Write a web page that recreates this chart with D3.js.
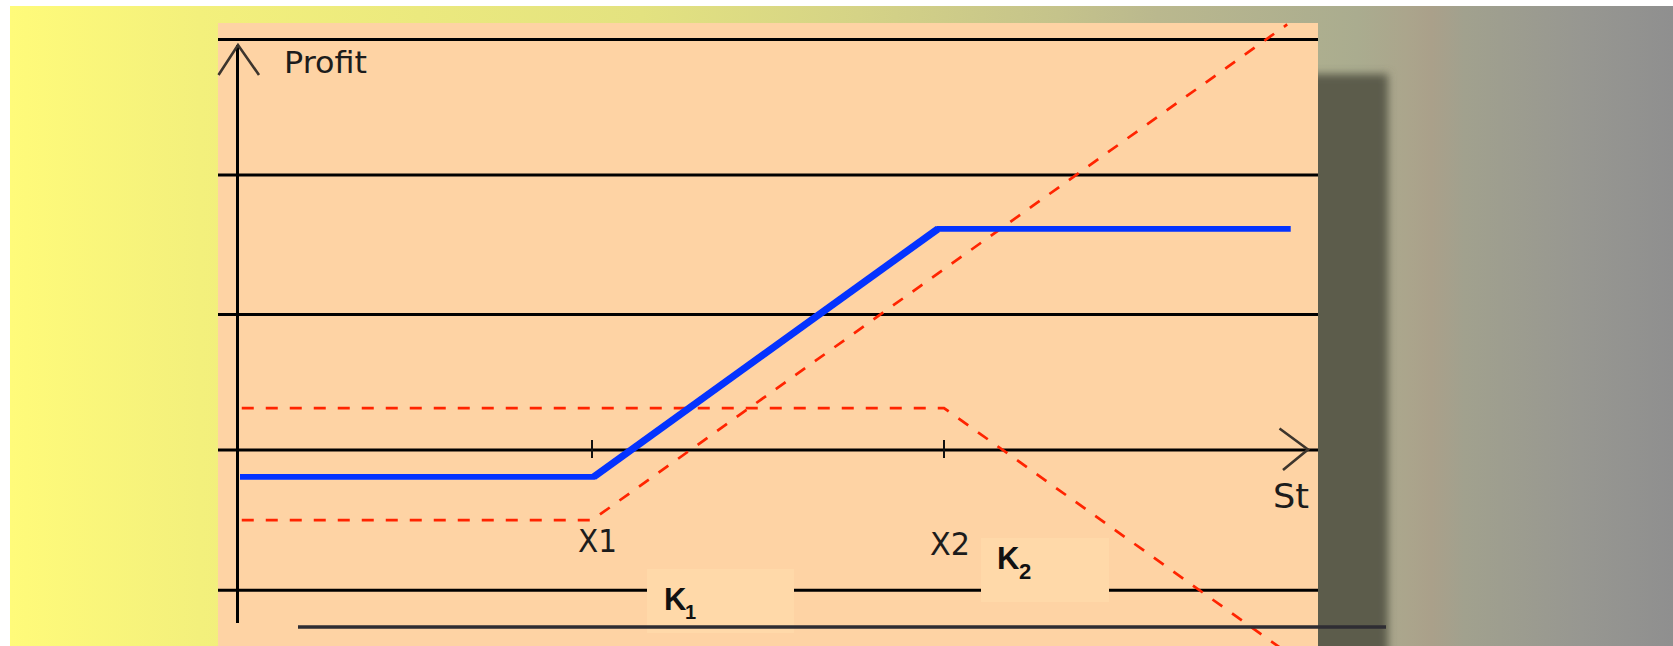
<!DOCTYPE html>
<html><head><meta charset="utf-8">
<script src="https://cdn.jsdelivr.net/npm/d3@7"></script>
<style>html,body{margin:0;padding:0;background:#fff;}svg{display:block;}</style>
</head><body>
<svg id="chart" width="1673" height="646"></svg>
<script>
// ---- data ----
const strikeValues = [40, 80];
const strikeLabels = ["X1", "X2"];
const gridProfits = [59.7, 40, 19.7, 0, -20.4];
const spreadS = [0, 40.2, 79.3, 119.4];
const spreadProfit = [-3.9, -3.9, 32.15, 32.15];
const longCallS = [0.2, 40, 119];
const longCallProfit = [-10.2, -10.2, 61.9];
const shortCallS = [0.2, 80, 120];
const shortCallProfit = [6.1, 6.1, -30.4];
const axisLabels = { y: "Profit", x: "St" };
const boxLabels = [{ main: "K", sub: "1" }, { main: "K", sub: "2" }];

const svg = d3.select("#chart");
const x = d3.scaleLinear().domain([0, 120]).range([240, 1296]);
const y = d3.scaleLinear().domain([0, 40]).range([450, 175]);

const defs = svg.append("defs");
const bg = defs.append("linearGradient").attr("id", "bgGrad").attr("x1", "0").attr("x2", "1").attr("y1", "0").attr("y2", "0");
[[0, "#fffb7a"], [0.114, "#f3f07c"], [0.38, "#e3e280"], [0.51, "#d5d386"], [0.63, "#c5c38b"], [0.69, "#bab88e"],
 [0.81, "#aaac8f"], [0.84, "#aba58c"], [0.855, "#aaa08a"], [0.875, "#a1a18e"], [0.945, "#979791"], [1, "#8f8f8f"]]
 .forEach(([o, c]) => bg.append("stop").attr("offset", o).attr("stop-color", c));
const blur = defs.append("filter").attr("id", "shadowBlur").attr("x", "-10%").attr("y", "-10%").attr("width", "120%").attr("height", "120%");
blur.append("feGaussianBlur").attr("stdDeviation", 4);

// background
svg.append("rect").attr("x", 10).attr("y", 6).attr("width", 1663).attr("height", 640).attr("fill", "url(#bgGrad)");
// drop shadow of the panel
svg.append("rect").attr("x", 288).attr("y", 74).attr("width", 1100).attr("height", 660)
  .attr("fill", "#5b5b4b").attr("filter", "url(#shadowBlur)");
// panel
svg.append("rect").attr("x", 218).attr("y", 23).attr("width", 1100).attr("height", 640).attr("fill", "#fed3a4");

// horizontal rules
svg.append("g").selectAll("line").data(gridProfits).join("line")
  .attr("x1", 218).attr("x2", 1318)
  .attr("y1", d => y(d)).attr("y2", d => y(d))
  .attr("stroke", "#000").attr("stroke-width", 3);

// K label boxes
const boxes = [{ x: 647, y: 569, w: 147, h: 64 }, { x: 981, y: 538, w: 128, h: 64 }];
svg.append("g").selectAll("rect").data(boxes).join("rect")
  .attr("x", d => d.x).attr("y", d => d.y).attr("width", d => d.w).attr("height", d => d.h)
  .attr("fill", "#ffd9a9");

// y axis
svg.append("line").attr("x1", 237.5).attr("x2", 237.5).attr("y1", 45).attr("y2", 623)
  .attr("stroke", "#000").attr("stroke-width", 3);
// arrowheads
svg.append("path").attr("d", "M218.5,75 L238,45 L259,75").attr("fill", "none")
  .attr("stroke", "#3d352d").attr("stroke-width", 2.6);
svg.append("path").attr("d", "M1279.5,428.5 L1308,449.5 L1283,470").attr("fill", "none")
  .attr("stroke", "#3d352d").attr("stroke-width", 2.6);

// strike ticks
svg.append("g").selectAll("line").data(strikeValues).join("line")
  .attr("x1", d => x(d)).attr("x2", d => x(d))
  .attr("y1", y(0) - 10).attr("y2", y(0) + 8)
  .attr("stroke", "#111").attr("stroke-width", 2);

const line = d3.line().x(d => x(d[0])).y(d => y(d[1]));
const zip = (a, b) => a.map((v, i) => [v, b[i]]);

// dashed red: long call and short call
[zip(longCallS, longCallProfit), zip(shortCallS, shortCallProfit)].forEach(pts => {
  svg.append("path").attr("d", line(pts)).attr("fill", "none")
    .attr("stroke", "#ff2400").attr("stroke-width", 2.7).attr("stroke-dasharray", "12,12");
});
// blue spread (the sloped leg is drawn a bit heavier, as in the picture)
const spreadPts = zip(spreadS, spreadProfit);
svg.append("path").attr("d", line(spreadPts)).attr("fill", "none")
  .attr("stroke", "#0433ff").attr("stroke-width", 5.8).attr("stroke-linejoin", "miter");
svg.append("path").attr("d", line(spreadPts.slice(1, 3))).attr("fill", "none")
  .attr("stroke", "#0433ff").attr("stroke-width", 7.2);

// bottom dark rule
svg.append("line").attr("x1", 298).attr("x2", 1386).attr("y1", 627).attr("y2", 627)
  .attr("stroke", "#2e2d33").attr("stroke-width", 3.5);

// axis texts
const font = "'DejaVu Sans', sans-serif";
svg.append("text").attr("x", 284).attr("y", 73).attr("font-family", font).attr("font-size", 30)
  .attr("textLength", 83).attr("lengthAdjust", "spacingAndGlyphs").attr("fill", "#1c1c1c").text(axisLabels.y);
svg.append("text").attr("x", 1273).attr("y", 508).attr("font-family", font).attr("font-size", 33)
  .attr("textLength", 36).attr("lengthAdjust", "spacingAndGlyphs").attr("fill", "#1c1c1c").text(axisLabels.x);
const labelPos = [{ y: 552, w: 39 }, { y: 555, w: 40 }];
svg.append("g").selectAll("text").data(strikeLabels).join("text")
  .attr("x", (d, i) => x(strikeValues[i]) - 14).attr("y", (d, i) => labelPos[i].y)
  .attr("font-family", font).attr("font-size", 32)
  .attr("textLength", (d, i) => labelPos[i].w).attr("lengthAdjust", "spacingAndGlyphs")
  .attr("fill", "#1c1c1c").text(d => d);

// K labels
const kPos = [{ x: 664, y: 610, sx: 685, sy: 619, ss: 20 }, { x: 997, y: 569, sx: 1019, sy: 579, ss: 22 }];
boxLabels.forEach((b, i) => {
  const t = svg.append("text").attr("font-family", "'Liberation Sans', Arial, sans-serif").attr("font-weight", "bold").attr("fill", "#111");
  t.append("tspan").attr("x", kPos[i].x).attr("y", kPos[i].y).attr("font-size", 31).text(b.main);
  t.append("tspan").attr("x", kPos[i].sx).attr("y", kPos[i].sy).attr("font-size", kPos[i].ss).text(b.sub);
});
</script>
</body></html>
